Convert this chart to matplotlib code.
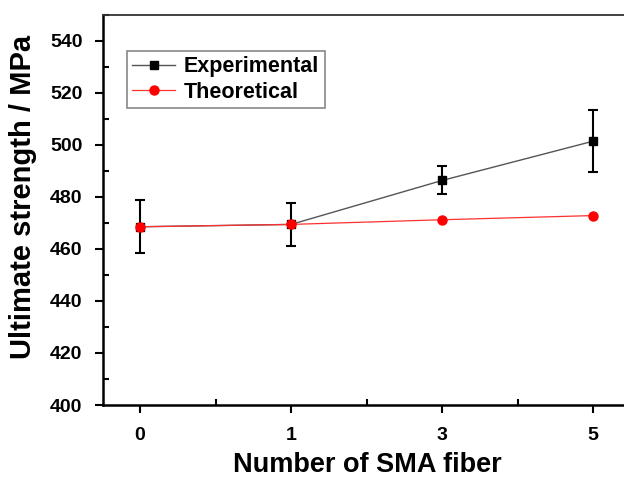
import matplotlib
matplotlib.use("Agg")
import matplotlib.pyplot as plt
from matplotlib.ticker import MultipleLocator, FixedLocator

plt.rcParams['font.family'] = ['Liberation Sans', 'DejaVu Sans']
plt.rcParams['font.weight'] = 'bold'

categories = ["0", "1", "3", "5"]
experimental = [468.5, 469.4, 486.3, 501.4]
experimental_err = [10.1, 8.3, 5.4, 12.0]
theoretical = [468.5, 469.4, 471.2, 472.8]
y_ticks = [400, 420, 440, 460, 480, 500, 520, 540]

fig = plt.figure(figsize=(6.24, 4.79), dpi=100)
ax = fig.add_axes([103.3/624, 74/479, (631-103.3)/624, (405-14.7)/479])

x = list(range(len(categories)))
ax.errorbar(x, experimental, yerr=experimental_err, fmt='none', ecolor='black',
            elinewidth=1.5, capsize=3.6, capthick=1.5, zorder=2)
ax.plot(x, experimental, color='#555555', lw=1.0, marker='s', ms=5.5,
        mfc='black', mec='black', label='Experimental', zorder=3)
ax.plot(x, theoretical, color='#ff3030', lw=0.9, marker='o', ms=6.5,
        mfc='red', mec='red', label='Theoretical', zorder=4)

ax.set_xlim(-0.243, 3.25)
ax.set_ylim(400, 550)
ax.set_xticks(x)
ax.set_xticklabels(categories)
ax.xaxis.set_minor_locator(FixedLocator([0.5, 1.5, 2.5]))
ax.yaxis.set_major_locator(FixedLocator(y_ticks))
ax.yaxis.set_minor_locator(MultipleLocator(10))

ax.tick_params(axis='both', which='major', direction='out', length=6, width=1.5,
               labelsize=14)
ax.tick_params(axis='both', which='minor', direction='in', length=4, width=1.5)
ax.tick_params(axis='x', which='major', pad=9.5)
ax.tick_params(axis='y', which='major', pad=9)
ax.tick_params(top=False, right=False, which='both')

for s in ['left', 'bottom']:
    ax.spines[s].set_linewidth(1.8)
ax.spines['top'].set_linewidth(1.3)
ax.spines['top'].set_color('#333333')
ax.spines['right'].set_visible(False)

ax.set_xlabel('Number of SMA fiber', fontsize=19.5, fontweight='bold', va='center')
ax.xaxis.set_label_coords(0.5, -0.154)
ax.set_ylabel('Ultimate strength / MPa', fontsize=21, fontweight='bold', va='center')
ax.yaxis.set_label_coords(-0.152, 0.533)

leg = ax.legend(loc='upper left', bbox_to_anchor=(0.045, 0.907), borderaxespad=0,
                fancybox=False, edgecolor='#888888', fontsize=15.5, handlelength=2.0,
                handletextpad=0.4, borderpad=0.25, labelspacing=0.2, framealpha=1)
leg.get_frame().set_linewidth(1.2)
for t in leg.get_texts():
    t.set_fontweight('bold')

fig.savefig('out.png', dpi=100)
